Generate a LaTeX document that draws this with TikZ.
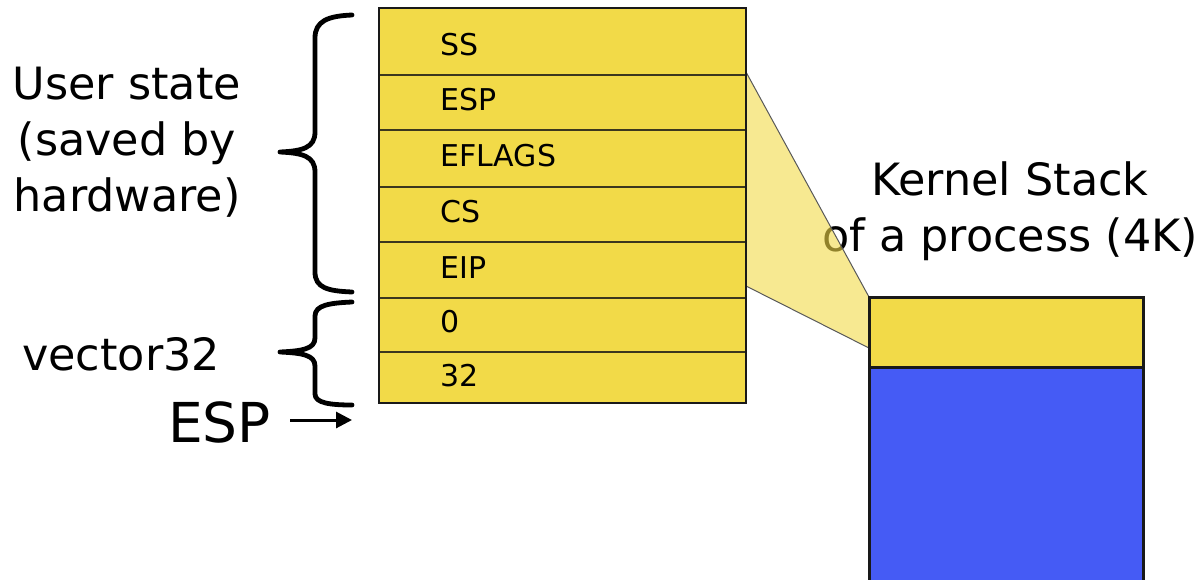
\documentclass[tikz,border=0pt]{standalone}
\usepackage{fontspec}
\setmainfont{DejaVu Sans}
\usetikzlibrary{arrows.meta}
\definecolor{stackyellow}{RGB}{242,218,72}
\definecolor{stackblue}{RGB}{69,91,245}
\definecolor{rowline}{RGB}{60,55,30}
\begin{document}
\begin{tikzpicture}[x=1pt,y=-1pt,
  celltext/.style={anchor=west, font=\fontsize{30}{36}\selectfont, inner sep=0pt},
  bigtext/.style={font=\fontsize{44.5}{56}\selectfont, align=center, inner sep=0pt},
  bracestroke/.style={line width=4.8pt, line cap=round, line join=round},
  frame/.style={draw=black!90, line width=2.4pt},
  rowsep/.style={draw=rowline, line width=1.5pt},
  edgeline/.style={draw=black!65, line width=1pt}]
\useasboundingbox (0,0) rectangle (1203,579);
% stack of saved state
\coordinate (stl) at (379,8);
\coordinate (sbr) at (746,403);
\fill[stackyellow] (stl) rectangle (sbr);
\foreach \yy in {75,130,187,242,298,352}
  \draw[rowsep] (379,\yy) -- (746,\yy);
% row labels
\node[celltext] (rss)   at (440,45)  {SS};
\node[celltext] (resp)  at (440,100) {ESP};
\node[celltext] (refl)  at (440,156) {EFLAGS};
\node[celltext] (rcs)   at (440,212) {CS};
\node[celltext] (reip)  at (440,268) {EIP};
\node[celltext] (rzero) at (440,322) {0};
\node[celltext] (rvec)  at (440,376) {32};
% kernel stack
\coordinate (kyl) at (869,297);
\coordinate (kyr) at (1143,367);
\fill[stackyellow] (kyl) rectangle (kyr);
\fill[stackblue] (869,367) rectangle (1143,585);
% labels
\node[bigtext] (user) at (127,142) {User state\\(saved by\\hardware)};
\node[bigtext, anchor=base west] (vec) at (22,370) {vector32};
\node[anchor=base west, inner sep=0pt, font=\fontsize{55}{66}\selectfont] (espbig) at (168,442) {ESP};
\node[bigtext] (ktitle) at (1010,211) {Kernel Stack\\of a process (4K)};
% zoom wedge (drawn over the text, translucent)
\coordinate (wa) at (746,72);
\coordinate (wb) at (869,297);
\coordinate (wc) at (869,348);
\coordinate (wd) at (746,286);
\fill[stackyellow, opacity=0.6] (wa) -- (wb) -- (wc) -- (wd) -- cycle;
\draw[edgeline] (wa) -- (wb);
\draw[edgeline] (wd) -- (wc);
% frames
\draw[frame] (stl) rectangle (sbr);
\draw[frame, line width=3pt] (869,585) -- (869,297) -- (1143,297) -- (1143,585);
\draw[frame, line width=3pt] (869,367) -- (1143,367);
% braces
\draw[bracestroke] (352,15) .. controls (328,16) and (315,21) .. (315,38)
  -- (315,132) .. controls (315,148) and (302,151) .. (280,152)
  .. controls (302,153) and (315,156) .. (315,172)
  -- (315,272) .. controls (315,288) and (328,291) .. (352,292);
\draw[bracestroke] (352,302) .. controls (330,303) and (315,305) .. (315,316)
  -- (315,338) .. controls (315,349) and (302,351) .. (280,352)
  .. controls (302,353) and (315,355) .. (315,366)
  -- (315,394) .. controls (315,403) and (330,405) .. (352,405);
% ESP pointer
\coordinate (arrowstart) at (290,420);
\coordinate (esptip) at (352,420);
\draw[line width=3pt, -{Triangle[length=16pt,width=16pt]}] (arrowstart) -- (esptip);
\end{tikzpicture}
\end{document}
